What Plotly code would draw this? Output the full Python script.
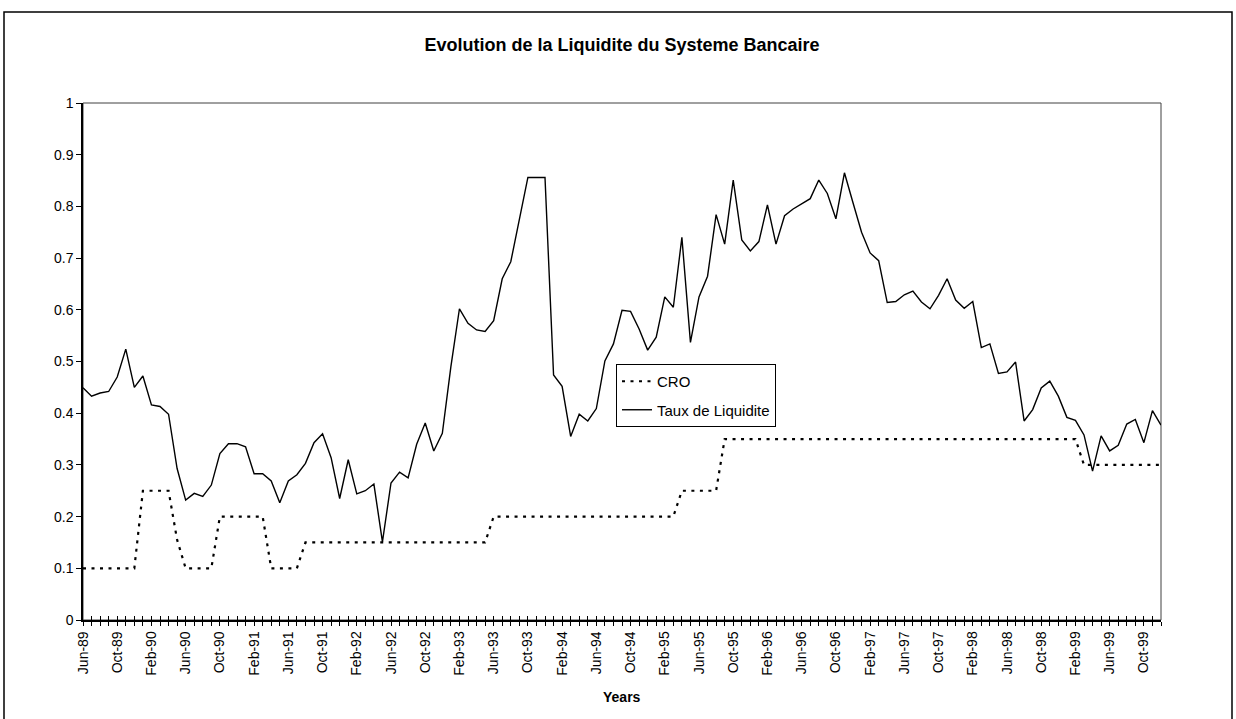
# -*- coding: utf-8 -*-

import pandas as pd
import plotly.graph_objs as go


# monthly observations, Jun-89 .. Dec-99
months = [d.strftime("%b-%y") for d in pd.date_range("1989-06-01", "1999-12-01", freq="MS")]

cro = [
    0.10, 0.10, 0.10, 0.10, 0.10, 0.10, 0.10, 0.25, 0.25, 0.25,
    0.25, 0.155, 0.10, 0.10, 0.10, 0.10, 0.20, 0.20, 0.20, 0.20,
    0.20, 0.20, 0.10, 0.10, 0.10, 0.10, 0.15, 0.15, 0.15, 0.15,
    0.15, 0.15, 0.15, 0.15, 0.15, 0.15, 0.15, 0.15, 0.15, 0.15,
    0.15, 0.15, 0.15, 0.15, 0.15, 0.15, 0.15, 0.15, 0.20, 0.20,
    0.20, 0.20, 0.20, 0.20, 0.20, 0.20, 0.20, 0.20, 0.20, 0.20,
    0.20, 0.20, 0.20, 0.20, 0.20, 0.20, 0.20, 0.20, 0.20, 0.20,
    0.25, 0.25, 0.25, 0.25, 0.25, 0.35, 0.35, 0.35, 0.35, 0.35,
    0.35, 0.35, 0.35, 0.35, 0.35, 0.35, 0.35, 0.35, 0.35, 0.35,
    0.35, 0.35, 0.35, 0.35, 0.35, 0.35, 0.35, 0.35, 0.35, 0.35,
    0.35, 0.35, 0.35, 0.35, 0.35, 0.35, 0.35, 0.35, 0.35, 0.35,
    0.35, 0.35, 0.35, 0.35, 0.35, 0.35, 0.35, 0.30, 0.30, 0.30,
    0.30, 0.30, 0.30, 0.30, 0.30, 0.30, 0.30,
]

taux_liquidite = [
    0.449, 0.433, 0.439, 0.442, 0.470, 0.524, 0.450, 0.472, 0.416, 0.413,
    0.398, 0.293, 0.232, 0.245, 0.239, 0.261, 0.322, 0.341, 0.341, 0.335,
    0.283, 0.283, 0.269, 0.227, 0.269, 0.281, 0.303, 0.343, 0.360, 0.314,
    0.235, 0.310, 0.244, 0.250, 0.263, 0.151, 0.265, 0.286, 0.275, 0.340,
    0.381, 0.327, 0.361, 0.490, 0.602, 0.574, 0.561, 0.558, 0.579, 0.660,
    0.693, 0.774, 0.856, 0.856, 0.856, 0.474, 0.452, 0.355, 0.398, 0.385,
    0.409, 0.501, 0.534, 0.599, 0.597, 0.563, 0.522, 0.547, 0.625, 0.605,
    0.740, 0.537, 0.625, 0.665, 0.784, 0.727, 0.851, 0.735, 0.714, 0.732,
    0.803, 0.727, 0.782, 0.795, 0.805, 0.815, 0.851, 0.825, 0.776, 0.865,
    0.807, 0.750, 0.710, 0.695, 0.614, 0.616, 0.629, 0.636, 0.615, 0.602,
    0.628, 0.660, 0.619, 0.603, 0.616, 0.527, 0.534, 0.477, 0.480, 0.499,
    0.385, 0.407, 0.449, 0.462, 0.433, 0.392, 0.386, 0.358, 0.288, 0.356,
    0.327, 0.338, 0.379, 0.388, 0.343, 0.405, 0.377,
]

title_text = "Evolution de la Liquidite du Systeme Bancaire"
x_title_text = "Years"

FONT = "Arial, Liberation Sans, sans-serif"
WIDTH, HEIGHT = 1236, 719
PLOT_LEFT, PLOT_TOP, PLOT_RIGHT, PLOT_BOTTOM = 83, 103, 1161, 620  # pixels
MARGIN = dict(l=PLOT_LEFT, t=PLOT_TOP, r=WIDTH - PLOT_RIGHT, b=HEIGHT - PLOT_BOTTOM)


def px_to_paper(px: float, py: float) -> tuple[float, float]:
    """Convert figure pixel coordinates to paper coordinates of the plot area."""
    return (
        (px - PLOT_LEFT) / (PLOT_RIGHT - PLOT_LEFT),
        (PLOT_BOTTOM - py) / (PLOT_BOTTOM - PLOT_TOP),
    )


def make_figure() -> go.Figure:
    tick_text = [m if k % 4 == 0 else "" for k, m in enumerate(months)]

    figure = go.Figure()
    figure.add_trace(
        go.Scatter(
            x=months,
            y=cro,
            mode="lines",
            name="CRO",
            line={"color": "black", "width": 2.2, "dash": "3px,5.5px"},
            legendgroup="a",
        )
    )
    figure.add_trace(
        go.Scatter(
            x=months,
            y=taux_liquidite,
            mode="lines",
            name="Taux de Liquidite",
            xaxis="x2",
            line={"color": "black", "width": 1.4},
            legendgroup="b",
        )
    )

    # month ticks everywhere, a label every fourth month
    common_x = dict(
        type="category",
        range=[0, len(months) - 1],
        tickmode="array",
        tickvals=months,
        ticktext=tick_text,
        tickangle=-90,
        ticklen=4,
        tickwidth=1,
        tickcolor="black",
        showgrid=False,
        zeroline=False,
        tickfont={"family": FONT, "size": 14, "color": "black"},
    )

    figure.update_layout(
        width=WIDTH,
        height=HEIGHT,
        margin=MARGIN,
        paper_bgcolor="white",
        plot_bgcolor="white",
        font={"family": FONT, "size": 14, "color": "black"},
        title={
            "text": f"<b>{title_text}</b>",
            "x": px_to_paper(622, 0)[0],
            "xref": "paper",
            "xanchor": "center",
            "y": 1 - 45 / HEIGHT,
            "yanchor": "middle",
            "font": {"family": FONT, "size": 18, "color": "black"},
        },
        xaxis=dict(
            common_x,
            ticks="outside",
            showline=True,
            linecolor="black",
            linewidth=1.5,
        ),
        # second copy of the category axis only to get ticks crossing the line
        xaxis2=dict(
            common_x,
            overlaying="x",
            anchor="y",
            side="bottom",
            ticks="inside",
            showticklabels=False,
            showline=False,
        ),
        yaxis=dict(
            range=[0, 1],
            dtick=0.1,
            ticks="outside",
            ticklen=5,
            tickcolor="black",
            showline=True,
            linecolor="black",
            linewidth=1.5,
            showgrid=False,
            zeroline=False,
            tickfont={"family": FONT, "size": 14, "color": "black"},
        ),
        legend=dict(
            x=px_to_paper(616, 364)[0],
            y=px_to_paper(616, 364)[1],
            xanchor="left",
            yanchor="top",
            bgcolor="white",
            bordercolor="black",
            borderwidth=1,
            traceorder="grouped",
            tracegroupgap=6,
            font={"family": FONT, "size": 15, "color": "black"},
        ),
        showlegend=True,
    )

    # "Years" axis title
    figure.add_annotation(
        text=f"<b>{x_title_text}</b>",
        x=0.5,
        y=px_to_paper(0, 697)[1],
        xref="paper",
        yref="paper",
        showarrow=False,
        yanchor="middle",
        font={"family": FONT, "size": 14, "color": "black"},
    )

    # plot area frame
    figure.add_shape(
        type="rect", xref="paper", yref="paper", x0=0, x1=1, y0=0, y1=1,
        line={"color": "#404040", "width": 1}, layer="below",
    )

    # chart area border
    bx0, by0 = px_to_paper(4, 740)
    bx1, by1 = px_to_paper(1232, 12)
    figure.add_shape(
        type="rect", xref="paper", yref="paper", x0=bx0, x1=bx1, y0=by0, y1=by1,
        line={"color": "black", "width": 1.5}, layer="below",
    )

    return figure


fig = make_figure()
# drop the default body margin so the figure sits at the window origin
fig.write_html(
    "out.html",
    config={"displayModeBar": False},
    post_script="document.body.style.margin = '0';",
)
